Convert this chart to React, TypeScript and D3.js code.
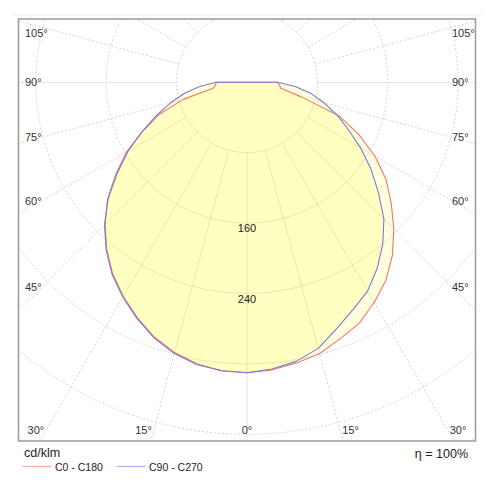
import * as d3 from 'd3'
import React from 'react'

// luminous intensity, cd/klm, gamma 0..90 step 5 (zero above 90)
const gammas = [0, 5, 10, 15, 20, 25, 30, 35, 40, 45, 50, 55, 60, 65, 70, 75, 80, 85, 90]
const c0 = [330, 328, 324, 319, 310, 302, 289, 275, 257, 236, 214, 193, 168, 140, 111, 64, 39, 37, 35]
const c180 = [331, 329, 325, 318, 308, 295, 281, 266, 248, 228, 207, 182, 158, 130, 106, 75, 39, 36, 35]
const c90 = [330, 327, 322, 313, 298, 285, 274, 258, 240, 220, 195, 172, 149, 127, 109, 91, 74, 55, 35]
const c270 = [331, 329, 326, 319, 309, 296, 282, 267, 249, 229, 206, 180, 156, 131, 109, 90, 72, 54, 35]

const rings = [80, 160, 240, 320, 400, 480]
const ringLabels = [160, 240]
const angleTicks = [0, 15, 30, 45, 60, 75, 90, 105]
const seriesNames = ['C0 - C180', 'C90 - C270']
const seriesColors = ['#ee7a68', '#7878dc']

const W = 492, H = 492
const frame = { x0: 18.5, y0: 19, x1: 475.5, y1: 441 }
const cx = 247, cy = 82.3
const font = '"Liberation Sans", Arial, sans-serif'

const rad = (d: number) => d * Math.PI / 180

export default function App() {
  const r = d3.scaleLinear().domain([0, 400]).range([0, 352])

  // d3 radial angle: 0 = up, clockwise. gamma 0 = down
  const line = d3.lineRadial<[number, number]>()
    .angle(d => d[0])
    .radius(d => r(d[1]))
    .curve(d3.curveLinearClosed)

  const shape = (right: number[], left: number[]) => {
    const pts: [number, number][] = [[Math.PI, 0]]
    for (let i = gammas.length - 1; i >= 0; i--) pts.push([Math.PI - rad(gammas[i]), right[i]])
    for (let i = 1; i < gammas.length; i++) pts.push([Math.PI + rad(gammas[i]), left[i]])
    return line(pts) as string
  }

  const paths = [shape(c0, c180), shape(c90, c270)]

  const spokes = d3.range(0, 360, 15)
  const rIn = r(rings[0]), rOut = 700
  const spoke = (a: number) => ({
    x1: cx + rIn * Math.sin(rad(a)), y1: cy + rIn * Math.cos(rad(a)),
    x2: cx + rOut * Math.sin(rad(a)), y2: cy + rOut * Math.cos(rad(a)),
  })
  const solidSpoke = (a: number) => a % 90 === 0

  const grid = (inner: boolean) => (
    <g>
      {rings.map(v => (
        <circle key={'c' + v} cx={cx} cy={cy} r={r(v)} fill='none'
          stroke={inner ? 'rgba(178,178,110,0.3)' : '#d2d2d2'}
          strokeDasharray={inner ? undefined : '2,2'} strokeWidth={1} />
      ))}
      {spokes.map(a => (
        <line key={'s' + a} {...spoke(a)}
          stroke={inner ? 'rgba(178,178,110,0.3)' : (solidSpoke(a) ? '#e4e4e4' : '#d2d2d2')}
          strokeDasharray={inner || solidSpoke(a) ? undefined : '2,2'} strokeWidth={1} />
      ))}
    </g>
  )

  const labelY = frame.y1 - 11, sideDx = 205
  const angleLabels: { x: number, y: number, t: string, anchor: string }[] = []
  angleTicks.forEach(a => {
    const t = a + '°'
    if (a === 0) angleLabels.push({ x: cx, y: labelY, t, anchor: 'middle' })
    else if (a <= 30) {
      const dx = (labelY - cy) * Math.tan(rad(a))
      angleLabels.push({ x: cx + dx + 2, y: labelY, t, anchor: 'start' })
      angleLabels.push({ x: cx - dx - 2, y: labelY, t, anchor: 'end' })
    } else {
      const y = Math.max(frame.y0 + 14, cy + sideDx * Math.cos(rad(a)) / Math.sin(rad(a)))
      angleLabels.push({ x: cx + sideDx, y, t, anchor: 'start' })
      angleLabels.push({ x: frame.x0 + 6.5, y, t, anchor: 'start' })
    }
  })

  return (
    <svg width={W} height={H} style={{ position: 'absolute', left: 0, top: 0, background: '#fff' }}
      fontFamily={font}>
      <defs>
        <clipPath id='frameClip'>
          <rect x={frame.x0} y={frame.y0} width={frame.x1 - frame.x0} height={frame.y1 - frame.y0} />
        </clipPath>
        <clipPath id='fillClip'>
          {paths.map((d, i) => <path key={i} d={d} transform={`translate(${cx},${cy})`} />)}
        </clipPath>
      </defs>
      <line x1={12} x2={482} y1={15} y2={15} stroke='#eeeeee' strokeWidth={1} />
      <g clipPath='url(#frameClip)'>
        {grid(false)}
        <g transform={`translate(${cx},${cy})`}>
          {paths.map((d, i) => <path key={'w' + i} d={d} fill='#fff' />)}
          {paths.map((d, i) => <path key={'y' + i} d={d} fill='#ffff00' fillOpacity={0.13} />)}
        </g>
        <g clipPath='url(#fillClip)'>{grid(true)}</g>
        <g transform={`translate(${cx},${cy})`}>
          {paths.map((d, i) => (
            <path key={'l' + i} d={d} fill='none' stroke={seriesColors[i]} strokeWidth={1.1}
              strokeLinejoin='round' />
          ))}
        </g>
      </g>
      <rect x={frame.x0} y={frame.y0} width={frame.x1 - frame.x0} height={frame.y1 - frame.y0}
        fill='none' stroke='#9a9a9a' strokeWidth={1.5} />
      {ringLabels.map(v => (
        <text key={'rl' + v} x={cx} y={cy + r(v) + 5.5} dy='0.35em' textAnchor='middle'
          fontSize={11} fill='#222'>{v}</text>
      ))}
      {angleLabels.map((l, i) => (
        <text key={'al' + i} x={l.x} y={l.y} dy='0.35em' textAnchor={l.anchor}
          fontSize={11} fill='#333'>{l.t}</text>
      ))}
      <text x={24} y={457} fontSize={12.5} fill='#222'>cd/klm</text>
      <text x={468} y={458} fontSize={12.5} fill='#222' textAnchor='end'>η = 100%</text>
      {seriesNames.map((n, i) => (
        <g key={n} transform={`translate(${22.5 + i * 94},0)`}>
          <line x1={0} x2={29} y1={466.5} y2={466.5} stroke={seriesColors[i]} strokeOpacity={0.6} strokeWidth={1.2} />
          <text x={32.5} y={470.5} fontSize={10.5} fill='#222'>{n}</text>
        </g>
      ))}
    </svg>
  )
}
